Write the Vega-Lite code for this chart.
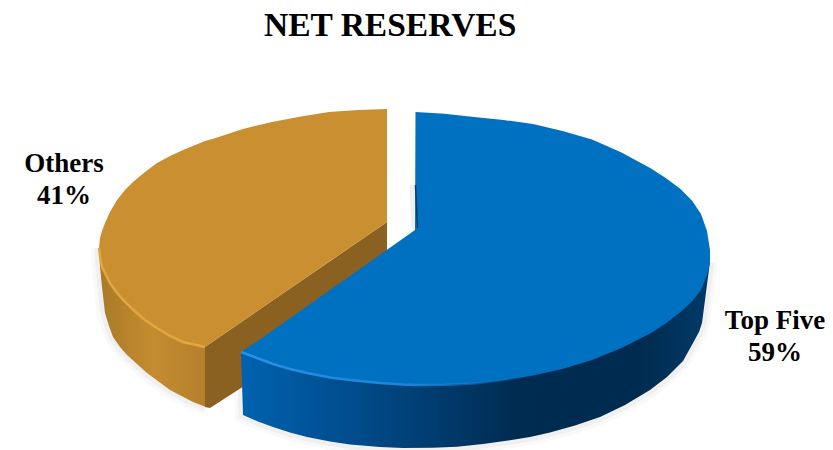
{
  "$schema": "https://vega.github.io/schema/vega-lite/v6.json",
  "width": 833,
  "height": 450,
  "padding": 0,
  "autosize": {"type": "none"},
  "background": "#ffffff",
  "config": {"view": {"stroke": null}},
  "title": {
    "text": "NET RESERVES",
    "anchor": "start",
    "frame": "group",
    "dx": 264,
    "dy": 47,
    "font": "Liberation Serif",
    "fontWeight": "bold",
    "fontSize": 33.5,
    "color": "#000000"
  },
  "datasets": {
    "shares": [
      {"segment": "Top Five", "share": 59, "across": 359, "upper": -71},
      {"segment": "Others", "share": 41, "across": -352, "upper": 86}
    ],
    "outlines": [
      {"part": "others face", "across": -317, "upper": 2, "lower": 2},
      {"part": "others face", "across": -316, "upper": 12, "lower": -6},
      {"part": "others face", "across": -314, "upper": 19, "lower": -17},
      {"part": "others face", "across": -311, "upper": 27, "lower": -23},
      {"part": "others face", "across": -306, "upper": 38, "lower": -33},
      {"part": "others face", "across": -299, "upper": 50, "lower": -43},
      {"part": "others face", "across": -291, "upper": 60, "lower": -52},
      {"part": "others face", "across": -283, "upper": 68, "lower": -59.5},
      {"part": "others face", "across": -271, "upper": 78, "lower": -70},
      {"part": "others face", "across": -259, "upper": 87, "lower": -78},
      {"part": "others face", "across": -246, "upper": 94, "lower": -86},
      {"part": "others face", "across": -233, "upper": 100, "lower": -92},
      {"part": "others face", "across": -211, "upper": 109, "lower": -97},
      {"part": "others face", "across": -202, "upper": 111.5, "lower": -90.8},
      {"part": "others face", "across": -173, "upper": 121, "lower": -70.9},
      {"part": "others face", "across": -144, "upper": 128, "lower": -51},
      {"part": "others face", "across": -115, "upper": 133.5, "lower": -31},
      {"part": "others face", "across": -87, "upper": 138, "lower": -11.8},
      {"part": "others face", "across": -58, "upper": 140, "lower": 8.1},
      {"part": "others face", "across": -29, "upper": 141, "lower": 28},

      {"part": "others rim", "across": -317, "upper": 2, "lower": 2},
      {"part": "others rim", "across": -316, "upper": -4, "lower": -17},
      {"part": "others rim", "across": -314, "upper": -12, "lower": -37},
      {"part": "others rim", "across": -311, "upper": -18, "lower": -63},
      {"part": "others rim", "across": -307, "upper": -25, "lower": -76},
      {"part": "others rim", "across": -303, "upper": -30, "lower": -87},
      {"part": "others rim", "across": -296, "upper": -37, "lower": -97},
      {"part": "others rim", "across": -289, "upper": -45, "lower": -105},
      {"part": "others rim", "across": -269, "upper": -62, "lower": -123},
      {"part": "others rim", "across": -246, "upper": -78, "lower": -140},
      {"part": "others rim", "across": -223, "upper": -86, "lower": -152},
      {"part": "others rim", "across": -210, "upper": -90, "lower": -157},

      {"part": "others cut", "across": -211, "upper": -97, "lower": -157},
      {"part": "others cut", "across": -206, "upper": -93.6, "lower": -158},
      {"part": "others cut", "across": -175, "upper": -72.3, "lower": -138},
      {"part": "others cut", "across": -29, "upper": 28, "lower": -40},

      {"part": "top five rim", "across": -175, "upper": -102, "lower": -102},
      {"part": "top five rim", "across": -173, "upper": -103, "lower": -165},
      {"part": "top five rim", "across": -158, "upper": -102, "lower": -171.5},
      {"part": "top five rim", "across": -143, "upper": -108, "lower": -177},
      {"part": "top five rim", "across": -126, "upper": -113, "lower": -182.5},
      {"part": "top five rim", "across": -109, "upper": -117, "lower": -187},
      {"part": "top five rim", "across": -86, "upper": -122, "lower": -191.5},
      {"part": "top five rim", "across": -66, "upper": -124, "lower": -194.5},
      {"part": "top five rim", "across": -36, "upper": -127, "lower": -197},
      {"part": "top five rim", "across": -13, "upper": -128, "lower": -198},
      {"part": "top five rim", "across": 17, "upper": -129, "lower": -197.8},
      {"part": "top five rim", "across": 41, "upper": -128, "lower": -196.8},
      {"part": "top five rim", "across": 67, "upper": -127, "lower": -194},
      {"part": "top five rim", "across": 94, "upper": -123, "lower": -190.3},
      {"part": "top five rim", "across": 114, "upper": -120, "lower": -187},
      {"part": "top five rim", "across": 134, "upper": -116, "lower": -182.5},
      {"part": "top five rim", "across": 159, "upper": -108, "lower": -175.5},
      {"part": "top five rim", "across": 184, "upper": -99, "lower": -167},
      {"part": "top five rim", "across": 209, "upper": -87, "lower": -155},
      {"part": "top five rim", "across": 234, "upper": -74, "lower": -140},
      {"part": "top five rim", "across": 251, "upper": -64, "lower": -127},
      {"part": "top five rim", "across": 267, "upper": -51, "lower": -111},
      {"part": "top five rim", "across": 277, "upper": -42, "lower": -93},
      {"part": "top five rim", "across": 283, "upper": -35, "lower": -82},
      {"part": "top five rim", "across": 286, "upper": -30, "lower": -73},
      {"part": "top five rim", "across": 289, "upper": -25, "lower": -50},
      {"part": "top five rim", "across": 292, "upper": -20, "lower": -27},
      {"part": "top five rim", "across": 294, "upper": -8, "lower": -12},

      {"part": "top five face", "across": -175, "upper": -102, "lower": -102},
      {"part": "top five face", "across": -159, "upper": -91.4, "lower": -108},
      {"part": "top five face", "across": -143, "upper": -80.2, "lower": -114},
      {"part": "top five face", "across": -126, "upper": -68.2, "lower": -119},
      {"part": "top five face", "across": -109, "upper": -56.2, "lower": -123},
      {"part": "top five face", "across": -86, "upper": -40, "lower": -127.5},
      {"part": "top five face", "across": -66, "upper": -25.9, "lower": -130},
      {"part": "top five face", "across": -36, "upper": -4.8, "lower": -133},
      {"part": "top five face", "across": -13, "upper": 11.4, "lower": -134.5},
      {"part": "top five face", "across": -1, "upper": 20, "lower": -134.9},
      {"part": "top five face", "across": -0.5, "upper": 138, "lower": -135},
      {"part": "top five face", "across": 28.5, "upper": 136.3, "lower": -134.8},
      {"part": "top five face", "across": 58, "upper": 133, "lower": -133.4},
      {"part": "top five face", "across": 87.5, "upper": 130, "lower": -130.3},
      {"part": "top five face", "across": 117, "upper": 126, "lower": -125.4},
      {"part": "top five face", "across": 146.5, "upper": 119, "lower": -119},
      {"part": "top five face", "across": 176, "upper": 110.4, "lower": -110},
      {"part": "top five face", "across": 205.5, "upper": 97.5, "lower": -98},
      {"part": "top five face", "across": 235, "upper": 81.5, "lower": -83},
      {"part": "top five face", "across": 249.75, "upper": 72, "lower": -73.5},
      {"part": "top five face", "across": 264.5, "upper": 61, "lower": -62},
      {"part": "top five face", "across": 276.3, "upper": 49, "lower": -51},
      {"part": "top five face", "across": 285, "upper": 36, "lower": -40},
      {"part": "top five face", "across": 291, "upper": 19, "lower": -25},
      {"part": "top five face", "across": 294, "upper": 0, "lower": -12},

      {"part": "gap edge", "across": -0.5, "upper": 65},
      {"part": "gap edge", "across": 1.5, "upper": 22}
    ]
  },
  "data": {"name": "outlines"},
  "encoding": {
    "x": {"field": "across", "type": "quantitative", "axis": null, "scale": {"domain": [-416, 417], "nice": false, "zero": false}},
    "y": {"field": "upper", "type": "quantitative", "axis": null, "scale": {"domain": [-200, 250], "nice": false, "zero": false}}
  },
  "layer": [
    {
      "transform": [{"filter": "datum.part === 'others rim' || datum.part === 'top five rim'"}],
      "mark": {"type": "line", "stroke": "#808080", "strokeWidth": 16, "strokeOpacity": 0.05},
      "encoding": {"y": {"field": "lower", "type": "quantitative"}, "detail": {"field": "part"}}
    },
    {
      "transform": [{"filter": "datum.part === 'others rim' || datum.part === 'top five rim'"}],
      "mark": {"type": "line", "stroke": "#808080", "strokeWidth": 9, "strokeOpacity": 0.07},
      "encoding": {"y": {"field": "lower", "type": "quantitative"}, "detail": {"field": "part"}}
    },
    {
      "transform": [{"filter": "datum.part === 'gap edge'"}],
      "mark": {"type": "line", "stroke": "#808080", "strokeWidth": 12, "strokeOpacity": 0.12},
      "encoding": {}
    },
    {
      "transform": [{"filter": "datum.part === 'others rim'"}],
      "mark": {
        "type": "area",
        "color": {
          "gradient": "linear", "x1": 0, "x2": 1, "y1": 0, "y2": 0,
          "stops": [
            {"offset": 0, "color": "#a97a28"},
            {"offset": 0.5, "color": "#c48c30"},
            {"offset": 1, "color": "#b5802c"}
          ]
        }
      },
      "encoding": {"y2": {"field": "lower"}}
    },
    {
      "transform": [{"filter": "datum.part === 'others cut'"}],
      "mark": {"type": "area", "color": "#8a6120"},
      "encoding": {"y2": {"field": "lower"}}
    },
    {
      "transform": [{"filter": "datum.part === 'others face'"}],
      "mark": {"type": "area", "color": "#c98f30"},
      "encoding": {"y2": {"field": "lower"}}
    },
    {
      "transform": [{"filter": "datum.part === 'others face' && datum.across <= -211"}],
      "mark": {"type": "line", "stroke": "#e4a63e", "strokeWidth": 2.5},
      "encoding": {"y": {"field": "lower", "type": "quantitative"}}
    },
    {
      "transform": [{"filter": "datum.part === 'top five rim'"}],
      "mark": {
        "type": "area",
        "color": {
          "gradient": "linear", "x1": 0, "x2": 1, "y1": 0, "y2": 0,
          "stops": [
            {"offset": 0, "color": "#0062b0"},
            {"offset": 0.25, "color": "#004b8a"},
            {"offset": 0.58, "color": "#002c52"},
            {"offset": 0.85, "color": "#002b50"},
            {"offset": 1, "color": "#003a68"}
          ]
        }
      },
      "encoding": {"y2": {"field": "lower"}}
    },
    {
      "transform": [{"filter": "datum.part === 'top five face'"}],
      "mark": {"type": "area", "color": "#0070c0"},
      "encoding": {"y2": {"field": "lower"}}
    },
    {
      "transform": [{"filter": "datum.part === 'top five face' && datum.across <= 117"}],
      "mark": {
        "type": "line",
        "strokeWidth": 2.5,
        "stroke": {
          "gradient": "linear", "x1": 0, "x2": 1, "y1": 0, "y2": 0,
          "stops": [
            {"offset": 0, "color": "#2a90e4"},
            {"offset": 0.55, "color": "#1c86dc"},
            {"offset": 1, "color": "#1c86dc00"}
          ]
        }
      },
      "encoding": {"y": {"field": "lower", "type": "quantitative"}}
    },
    {
      "transform": [{"filter": "datum.part === 'gap edge'"}],
      "mark": {"type": "line", "stroke": "#0b3d6b", "strokeWidth": 1.5},
      "encoding": {}
    },
    {
      "data": {"name": "shares"},
      "transform": [
        {"calculate": "[datum.segment, datum.share + '%']", "as": "caption"}
      ],
      "mark": {"type": "text", "font": "Liberation Serif", "fontWeight": "bold", "fontSize": 27, "lineHeight": 32, "align": "center", "baseline": "middle", "color": "#000000"},
      "encoding": {
        "text": {"field": "caption"}
      }
    }
  ]
}
